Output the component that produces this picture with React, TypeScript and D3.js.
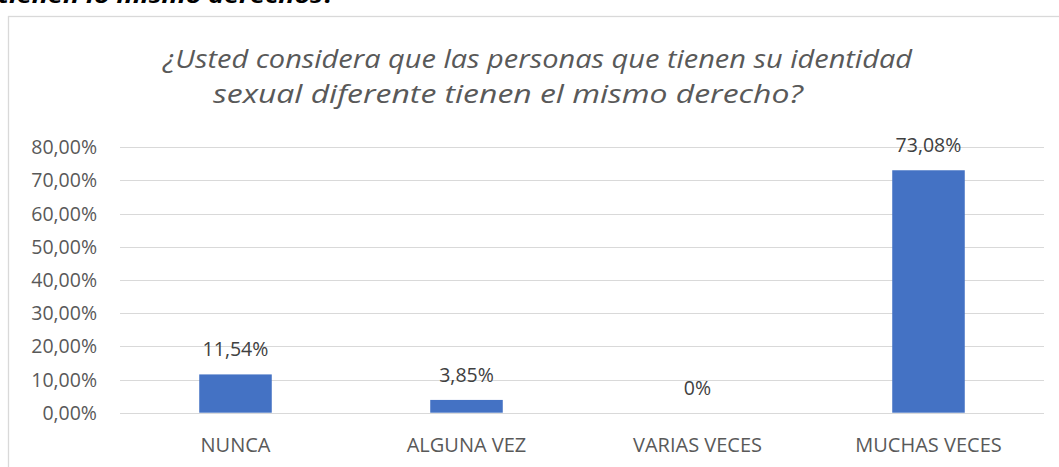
import React from "react";
import * as d3 from "d3";

const categories = ["NUNCA", "ALGUNA VEZ", "VARIAS VECES", "MUCHAS VECES"];
const values = [11.54, 3.85, 0, 73.08];
const valueLabels = ["11,54%", "3,85%", "0%", "73,08%"];
const yTicks = [0, 10, 20, 30, 40, 50, 60, 70, 80];
const titleLines = [
  "¿Usted considera que las personas que tienen su identidad",
  "sexual diferente tienen el mismo derecho?",
];
const topText = "tienen lo mismo derechos?";

const W = 1059;
const H = 467;
const FONT = "'Open Sans', 'Noto Sans', sans-serif";

export default function App() {
  const x = d3.scaleBand<string>().domain(categories).range([120, 1044]).paddingInner(0.686).paddingOuter(0.343);
  const y = d3.scaleLinear().domain([0, 80]).range([412.7, 147.3]);
  const fmt = (v: number) => d3.format(".2f")(v).replace(".", ",") + "%";

  return (
    <svg width={W} height={H} style={{ position: "absolute", left: 0, top: 0, background: "#fff" }}>
      <text x={-2} y={3} fontFamily={FONT} fontSize={22} fontWeight="bold" fontStyle="italic" fill="#000"
        textLength={337} lengthAdjust="spacingAndGlyphs">{topText}</text>
      <rect x={8.5} y={16.5} width={1100} height={600} fill="#fff" stroke="#d9d9d9" strokeWidth={1.3} />
      <text x={537.5} y={68} textAnchor="middle" fontFamily={FONT} fontSize={25.5} fontStyle="italic" fill="#595959"
        textLength={749} lengthAdjust="spacingAndGlyphs">{titleLines[0]}</text>
      <text x={508} y={103} textAnchor="middle" fontFamily={FONT} fontSize={25.5} fontStyle="italic" fill="#595959"
        textLength={590} lengthAdjust="spacingAndGlyphs">{titleLines[1]}</text>
      {yTicks.map((t) => (
        <g key={t}>
          <line x1={120} x2={1044} y1={Math.round(y(t)) + 0.5} y2={Math.round(y(t)) + 0.5} stroke="#d9d9d9" strokeWidth={1} />
          <text x={97} y={y(t)} dy="0.36em" textAnchor="end" fontFamily={FONT} fontSize={19.5} fill="#595959">{fmt(t)}</text>
        </g>
      ))}
      {categories.map((c, i) => (
        <g key={c}>
          <rect x={x(c)!} y={y(values[i])} width={x.bandwidth()} height={y(0) - y(values[i])} fill="#4472C4" />
          <text x={x(c)! + x.bandwidth() / 2} y={y(values[i]) - 18} textAnchor="middle" fontFamily={FONT} fontSize={19.5} fill="#404040">{valueLabels[i]}</text>
          <text x={x(c)! + x.bandwidth() / 2} y={452} textAnchor="middle" fontFamily={FONT} fontSize={20} fill="#595959">{c}</text>
        </g>
      ))}
    </svg>
  );
}
